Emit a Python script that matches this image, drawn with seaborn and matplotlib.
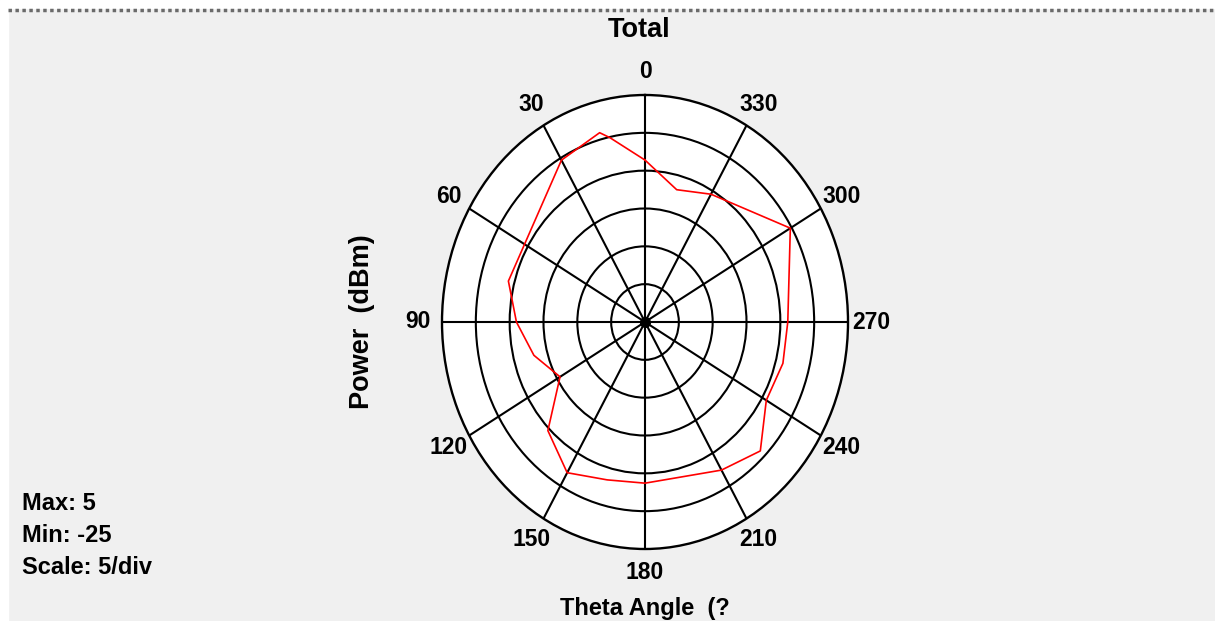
import numpy as np
import pandas as pd
import matplotlib
matplotlib.use('Agg')
import matplotlib.pyplot as plt
import seaborn as sns
from matplotlib.patches import Rectangle
from matplotlib.lines import Line2D

# Values (angle in degrees, power in dBm)
angle_deg = [0, 12, 15, 30, 75, 90, 105, 120, 135, 150, 165, 180,
             210, 225, 240, 255, 270, 300, 330, 345, 360]
power_dbm = [-3.6, -0.1, 0.9, -0.3, -4.1, -6.0, -8.0, -10.5, -4.7, -2.0, -3.4, -3.7,
             -2.4, -0.9, -4.3, -3.9, -3.9, -0.2, -5.5, -6.9, -3.6]

tick_angles = list(range(0, 360, 30))
tick_labels = [str(a) for a in tick_angles]
ring_levels = [-20, -15, -10, -5, 0]
r_min, r_max = -25, 5

info_lines = ['Max: 5', 'Min: -25', 'Scale: 5/div']

sns.set_theme(style='white')
plt.rcParams['font.family'] = ['Liberation Sans', 'DejaVu Sans']
plt.rcParams['text.color'] = 'black'
plt.rcParams['xtick.color'] = 'black'
plt.rcParams['xtick.labelcolor'] = 'black'

W, H = 1215, 621
fig = plt.figure(figsize=(W / 100, H / 100), dpi=100, facecolor='#f0f0f0')

# window border bits at the top / left
fig.add_artist(Rectangle((0, 1 - 8 / H), 1, 8 / H, transform=fig.transFigure,
                         color='white', zorder=0))
fig.add_artist(Rectangle((0, 0), 8 / W, 1, transform=fig.transFigure,
                         color='white', zorder=0))
fig.add_artist(Line2D([8 / W, 1], [1 - 10 / H, 1 - 10 / H], transform=fig.transFigure,
                      color='#6a6a6a', lw=2.5, linestyle=(0, (1, 1))))

# polar axes, stretched into an ellipse like the original
cx, cy, rx, ry = 645, 322, 203, 227
ax = fig.add_axes([(cx - rx) / W, (H - cy - ry) / H, 2 * rx / W, 2 * ry / H],
                  projection='polar')
ax.set_aspect('auto')
ax.set_facecolor('white')
ax.set_theta_zero_location('N')
ax.set_theta_direction(1)
ax.set_rlim(r_min, r_max)
ax.set_rticks(ring_levels)
ax.set_yticklabels([])
ax.set_thetagrids(tick_angles, tick_labels, fontsize=16.5, fontweight='bold')
ax.tick_params(axis='x', pad=4, colors='black')
ax.grid(True, color='black', linewidth=1.5)
ax.spines['polar'].set_color('black')
ax.spines['polar'].set_linewidth(1.7)

df = pd.DataFrame({'theta': np.deg2rad(angle_deg), 'power': power_dbm})
sns.lineplot(data=df, x='theta', y='power', sort=False, estimator=None,
             color='red', linewidth=1.2, ax=ax, zorder=3)
ax.plot([0], [r_min], 'o', color='black', ms=7, clip_on=False, zorder=4)
ax.set_xlabel('')
ax.set_ylabel('')

# texts
fig.text(639 / W, 1 - 30 / H, 'Total', ha='center', va='center',
         fontsize=19.5, fontweight='bold')
fig.text(362 / W, 1 - 322 / H, 'Power  (dBm)', rotation=90, ha='center', va='center',
         fontsize=19.5, fontweight='bold')
fig.text(645 / W, 1 - 608 / H, 'Theta Angle  (?', ha='center', va='center',
         fontsize=17, fontweight='bold')
for i, line in enumerate(info_lines):
    fig.text(22 / W, 1 - (503 + 32 * i) / H, line, ha='left', va='center',
             fontsize=17, fontweight='bold')

fig.savefig('out.png', dpi=100, facecolor=fig.get_facecolor())
